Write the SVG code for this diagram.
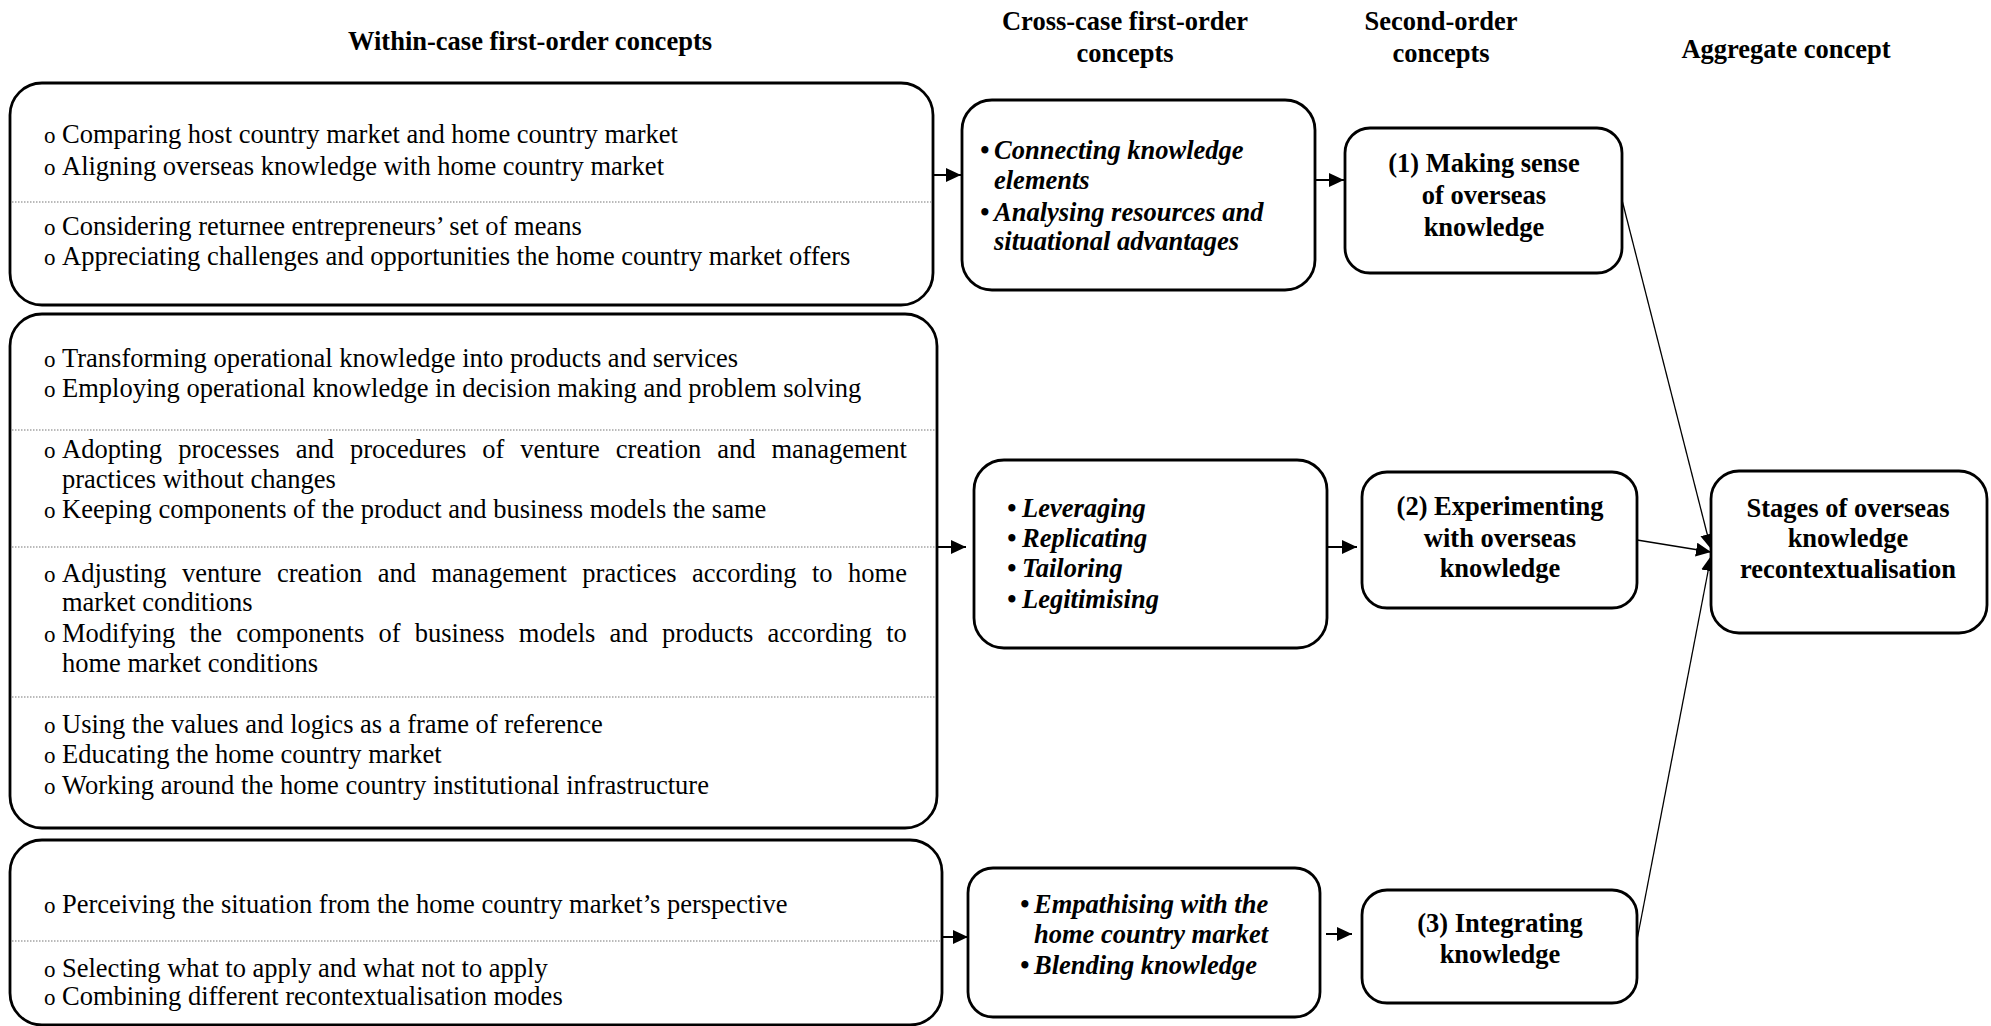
<svg xmlns="http://www.w3.org/2000/svg" width="1991" height="1026" viewBox="0 0 1991 1026">
  <defs>
    <marker id="head" markerUnits="userSpaceOnUse" markerWidth="16" markerHeight="16" refX="15" refY="7" orient="auto">
      <path d="M0,0 L15,7 L0,14 z" fill="#000"/>
    </marker>
    <style>
      text { font-family: "Liberation Serif", "Times New Roman", serif; font-size: 26.5px; fill: #000; }
      .hd { font-weight: bold; text-anchor: middle; font-size: 26.5px; }
      .box { fill: #fff; stroke: #000; stroke-width: 2.8; }
      .sep { stroke: #777; stroke-width: 1.2; stroke-dasharray: 1.5 1.5; fill: none; }
      .o { font-size: 23px; }
      .bi { font-weight: bold; font-style: italic; }
      .ctr { font-weight: bold; text-anchor: middle; }
      .arr { stroke: #000; stroke-width: 2; fill: none; marker-end: url(#head); }
      .thin { stroke: #000; stroke-width: 1.3; fill: none; marker-end: url(#head); }
    </style>
  </defs>

  <rect width="1991" height="1026" fill="#fff"/>

  <!-- column headings -->
  <g id="headings">
    <text class="hd" x="530" y="50">Within-case first-order concepts</text>
    <text class="hd" x="1125" y="30">Cross-case first-order</text>
    <text class="hd" x="1125" y="62">concepts</text>
    <text class="hd" x="1441" y="30">Second-order</text>
    <text class="hd" x="1441" y="62">concepts</text>
    <text class="hd" x="1786" y="58">Aggregate concept</text>
  </g>

  <!-- connectors -->
  <g id="connectors">
    <line class="arr" x1="933" y1="175" x2="961" y2="175"/>
    <line class="arr" x1="1316" y1="180" x2="1344" y2="180"/>
    <line class="arr" x1="937" y1="547" x2="966" y2="547"/>
    <line class="arr" x1="1328" y1="547" x2="1357" y2="547"/>
    <line class="arr" x1="942" y1="937" x2="968" y2="937"/>
    <line class="arr" x1="1326" y1="934" x2="1352" y2="934"/>
    <line class="thin" x1="1622" y1="200" x2="1711" y2="549"/>
    <line class="thin" x1="1637" y1="540" x2="1711" y2="552"/>
    <line class="thin" x1="1637" y1="940" x2="1711" y2="556"/>
  </g>

  <!-- within-case concepts, group 1 -->
  <g id="within-1">
    <rect class="box" x="10" y="83" width="923" height="222" rx="32"/>
    <line class="sep" x1="12" y1="202" x2="931" y2="202"/>
    <text y="143"><tspan class="o" x="44">o</tspan><tspan x="62">Comparing host country market and home country market</tspan></text>
    <text y="175"><tspan class="o" x="44">o</tspan><tspan x="62">Aligning overseas knowledge with home country market</tspan></text>
    <text y="235"><tspan class="o" x="44">o</tspan><tspan x="62">Considering returnee entrepreneurs’ set of means</tspan></text>
    <text y="265"><tspan class="o" x="44">o</tspan><tspan x="62">Appreciating challenges and opportunities the home country market offers</tspan></text>
  </g>

  <!-- within-case concepts, group 2 -->
  <g id="within-2">
    <rect class="box" x="10" y="314" width="927" height="514" rx="32"/>
    <line class="sep" x1="12" y1="430" x2="935" y2="430"/>
    <line class="sep" x1="12" y1="547" x2="935" y2="547"/>
    <line class="sep" x1="12" y1="697" x2="935" y2="697"/>
    <text y="367"><tspan class="o" x="44">o</tspan><tspan x="62">Transforming operational knowledge into products and services</tspan></text>
    <text y="397"><tspan class="o" x="44">o</tspan><tspan x="62">Employing operational knowledge in decision making and problem solving</tspan></text>
    <text y="458"><tspan class="o" x="44">o</tspan><tspan x="62" word-spacing="9.4">Adopting processes and procedures of venture creation and management</tspan></text>
    <text x="62" y="488">practices without changes</text>
    <text y="518"><tspan class="o" x="44">o</tspan><tspan x="62">Keeping components of the product and business models the same</tspan></text>
    <text y="582"><tspan class="o" x="44">o</tspan><tspan x="62" word-spacing="8.85">Adjusting venture creation and management practices according to home</tspan></text>
    <text x="62" y="611">market conditions</text>
    <text y="642"><tspan class="o" x="44">o</tspan><tspan x="62" word-spacing="7.6">Modifying the components of business models and products according to</tspan></text>
    <text x="62" y="672">home market conditions</text>
    <text y="733"><tspan class="o" x="44">o</tspan><tspan x="62">Using the values and logics as a frame of reference</tspan></text>
    <text y="763"><tspan class="o" x="44">o</tspan><tspan x="62">Educating the home country market</tspan></text>
    <text y="794"><tspan class="o" x="44">o</tspan><tspan x="62">Working around the home country institutional infrastructure</tspan></text>
  </g>

  <!-- within-case concepts, group 3 -->
  <g id="within-3">
    <rect class="box" x="10" y="840" width="932" height="185" rx="32"/>
    <line class="sep" x1="12" y1="941" x2="940" y2="941"/>
    <text y="913"><tspan class="o" x="44">o</tspan><tspan x="62">Perceiving the situation from the home country market’s perspective</tspan></text>
    <text y="977"><tspan class="o" x="44">o</tspan><tspan x="62">Selecting what to apply and what not to apply</tspan></text>
    <text y="1005"><tspan class="o" x="44">o</tspan><tspan x="62">Combining different recontextualisation modes</tspan></text>
  </g>

  <!-- cross-case concepts -->
  <g id="cross-1">
    <rect class="box" x="962" y="100" width="353" height="190" rx="30"/>
    <text class="bi" y="159"><tspan x="980">•</tspan><tspan x="994">Connecting knowledge</tspan></text>
    <text class="bi" x="994" y="189">elements</text>
    <text class="bi" y="221"><tspan x="980">•</tspan><tspan x="994">Analysing resources and</tspan></text>
    <text class="bi" x="994" y="250">situational advantages</text>
  </g>

  <g id="cross-2">
    <rect class="box" x="974" y="460" width="353" height="188" rx="30"/>
    <text class="bi" y="517"><tspan x="1007">•</tspan><tspan x="1022">Leveraging</tspan></text>
    <text class="bi" y="547"><tspan x="1007">•</tspan><tspan x="1022">Replicating</tspan></text>
    <text class="bi" y="577"><tspan x="1007">•</tspan><tspan x="1022">Tailoring</tspan></text>
    <text class="bi" y="608"><tspan x="1007">•</tspan><tspan x="1022">Legitimising</tspan></text>
  </g>

  <g id="cross-3">
    <rect class="box" x="968" y="868" width="352" height="149" rx="25"/>
    <text class="bi" y="913"><tspan x="1020">•</tspan><tspan x="1034">Empathising with the</tspan></text>
    <text class="bi" x="1034" y="943">home country market</text>
    <text class="bi" y="974"><tspan x="1020">•</tspan><tspan x="1034">Blending knowledge</tspan></text>
  </g>

  <!-- second-order concepts -->
  <g id="second-1">
    <rect class="box" x="1345" y="128" width="277" height="145" rx="25"/>
    <text class="ctr" x="1484" y="172">(1) Making sense</text>
    <text class="ctr" x="1484" y="204">of overseas</text>
    <text class="ctr" x="1484" y="236">knowledge</text>
  </g>

  <g id="second-2">
    <rect class="box" x="1362" y="472" width="275" height="136" rx="25"/>
    <text class="ctr" x="1500" y="515">(2) Experimenting</text>
    <text class="ctr" x="1500" y="547">with overseas</text>
    <text class="ctr" x="1500" y="577">knowledge</text>
  </g>

  <g id="second-3">
    <rect class="box" x="1362" y="890" width="275" height="113" rx="25"/>
    <text class="ctr" x="1500" y="932">(3) Integrating</text>
    <text class="ctr" x="1500" y="963">knowledge</text>
  </g>

  <!-- aggregate concept -->
  <g id="aggregate">
    <rect class="box" x="1711" y="471" width="276" height="162" rx="28"/>
    <text class="ctr" x="1848" y="517">Stages of overseas</text>
    <text class="ctr" x="1848" y="547">knowledge</text>
    <text class="ctr" x="1848" y="578">recontextualisation</text>
  </g>
</svg>
